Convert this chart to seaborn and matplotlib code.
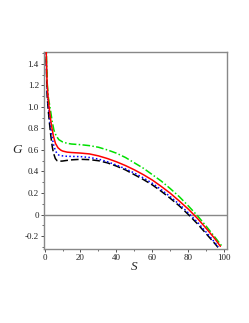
import matplotlib
matplotlib.use("Agg")
import matplotlib.pyplot as plt
import seaborn as sns
import pandas as pd
from matplotlib.ticker import MultipleLocator, FixedLocator, FixedFormatter

sns.set_theme(style="white")
plt.rcParams['font.family'] = ['Liberation Serif', 'DejaVu Serif']

# Data
S_red = [0.9, 1.1, 1.4, 2.0, 2.8, 3.5, 4.3, 5.0, 6.1, 7.5, 8.9, 10, 12.5, 15, 20, 25, 30, 35,
         40, 45, 50, 55, 60, 65, 70, 75, 80, 85, 90, 95, 97.8]
G_red = [1.55, 1.40, 1.22, 1.08, 0.96, 0.87, 0.785, 0.725, 0.66, 0.62, 0.60, 0.59, 0.58,
         0.576, 0.571, 0.563, 0.545, 0.52, 0.49, 0.455, 0.415, 0.37, 0.32, 0.26, 0.197,
         0.125, 0.05, -0.035, -0.13, -0.23, -0.295]

S_green = [0.9, 1.1, 1.5, 2.2, 3.3, 4.2, 5.2, 6.5, 8, 10, 12.5, 15, 20, 25, 30, 35, 40, 45,
           50, 55, 60, 65, 70, 75, 80, 85, 90, 95, 98.5]
G_green = [1.6, 1.45, 1.22, 1.08, 0.97, 0.87, 0.785, 0.73, 0.695, 0.675, 0.662, 0.655,
           0.649, 0.64, 0.625, 0.60, 0.57, 0.53, 0.48, 0.43, 0.37, 0.31, 0.24, 0.165,
           0.08, -0.01, -0.11, -0.215, -0.29]

S_blue = [0.9, 1.1, 1.4, 2.0, 2.8, 3.5, 4.3, 5, 6, 7, 8, 10, 12.5, 15, 20, 25, 30, 35, 40,
          45, 50, 55, 60, 65, 70, 75, 80, 85, 90, 95, 96.5]
G_blue = [1.5, 1.36, 1.17, 1.03, 0.90, 0.80, 0.71, 0.65, 0.595, 0.565, 0.552, 0.545, 0.541,
          0.54, 0.538, 0.53, 0.515, 0.49, 0.46, 0.425, 0.385, 0.34, 0.29, 0.23, 0.165,
          0.095, 0.015, -0.07, -0.165, -0.265, -0.3]

S_black = [0.9, 1.1, 1.4, 2.0, 2.8, 3.5, 4.3, 5, 6, 7, 8, 10, 12.5, 15, 20, 25, 30, 35, 40,
           45, 50, 55, 60, 65, 70, 75, 80, 85, 90, 95, 96.5]
G_black = [1.45, 1.32, 1.12, 0.98, 0.84, 0.73, 0.63, 0.57, 0.52, 0.50, 0.495, 0.497, 0.503,
           0.508, 0.513, 0.51, 0.5, 0.48, 0.45, 0.415, 0.37, 0.325, 0.275, 0.215, 0.15,
           0.08, 0.0, -0.085, -0.18, -0.275, -0.305]

x_ticks = [0, 20, 40, 60, 80, 100]
x_labels = ["0", "20", "40", "60", "80", "100"]
y_ticks = [-0.2, 0, 0.2, 0.4, 0.6, 0.8, 1.0, 1.2, 1.4]
y_labels = ["-0.2", "0", "0.2", "0.4", "0.6", "0.8", "1.0", "1.2", "1.4"]

fig = plt.figure(figsize=(2.49, 3.23), dpi=100)
ax = fig.add_axes([0.1767, 0.2291, 0.735, 0.610])

gray = "#888888"
ax.axhline(0, color=gray, lw=1.0, zorder=1)

series = [
    (S_black, G_black, "black", (0, (5, 2))),
    (S_blue, G_blue, "#0000ff", (0, (1, 1.5))),
    (S_green, G_green, "#00e000", (0, (5, 1.5, 1, 1.5))),
    (S_red, G_red, "#ff0000", "-"),
]
for s, g, c, ls in series:
    df = pd.DataFrame({"S": s, "G": g})
    sns.lineplot(data=df, x="S", y="G", ax=ax, color=c, lw=1.1, linestyle=ls,
                 sort=False, estimator=None, zorder=3)

ax.set_xlim(-0.3, 101.5)
ax.set_ylim(-0.32, 1.51)

ax.xaxis.set_major_locator(FixedLocator(x_ticks))
ax.xaxis.set_major_formatter(FixedFormatter(x_labels))
ax.xaxis.set_minor_locator(MultipleLocator(10))
ax.yaxis.set_major_locator(FixedLocator(y_ticks))
ax.yaxis.set_major_formatter(FixedFormatter(y_labels))
ax.yaxis.set_minor_locator(MultipleLocator(0.1))

ax.tick_params(axis="both", which="major", direction="out", length=2.2, width=0.6,
               colors="#333333", labelsize=6.5, pad=1.5, labelcolor="#222222")
ax.tick_params(axis="both", which="minor", direction="out", length=1.3, width=0.5,
               colors="#333333")
ax.tick_params(top=False, right=False, bottom=True, left=True, which="both")

for sp in ax.spines.values():
    sp.set_color(gray)
    sp.set_linewidth(1.0)
    sp.set_visible(True)

ax.set_xlabel("S", fontsize=9.5, style="italic", va="center")
ax.set_ylabel("G", fontsize=9.5, style="italic", rotation=0, va="center", ha="center")
ax.yaxis.set_label_coords(-0.145, 0.5)
ax.xaxis.set_label_coords(0.495, -0.092)

fig.savefig("out.png", dpi=100, facecolor="white")
